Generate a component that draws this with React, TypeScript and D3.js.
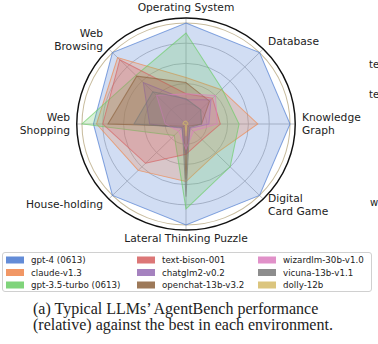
import React from "react";
import * as d3 from "d3";

const axes = [
  ["Operating System"],
  ["Database"],
  ["Knowledge", "Graph"],
  ["Digital", "Card Game"],
  ["Lateral Thinking Puzzle"],
  ["House-holding"],
  ["Web", "Shopping"],
  ["Web", "Browsing"],
];

const seriesNames = [
  "gpt-4 (0613)",
  "claude-v1.3",
  "gpt-3.5-turbo (0613)",
  "text-bison-001",
  "chatglm2-v0.2",
  "openchat-13b-v3.2",
  "wizardlm-30b-v1.0",
  "vicuna-13b-v1.1",
  "dolly-12b",
];

// values per axis: OS, DB, KG, DCG, LTP, HH, WS, WB (relative to best)
const gpt4 = [1.0, 1.0, 1.0, 1.0, 1.0, 1.0, 0.89, 1.0];
const claude = [0.46, 0.48, 0.69, 0.41, 0.57, 0.65, 0.86, 0.93];
const gpt35 = [0.9, 0.49, 0.51, 0.6, 0.84, 0.16, 1.0, 0.68];
const textBison = [0.3, 0.36, 0.33, 0.22, 0.3, 0.55, 0.8, 0.9];
const chatglm2 = [0.24, 0.34, 0.22, 0.06, 0.3, 0.06, 0.35, 0.58];
const openchat = [0.41, 0.32, 0.15, 0.03, 0.55, 0.03, 0.75, 0.67];
const wizardlm = [0.3, 0.4, 0.3, 0.1, 0.25, 0.1, 0.2, 0.4];
const vicuna = [0.25, 0.2, 0.15, 0.05, 0.72, 0.05, 0.5, 0.45];
const dolly = [0.03, 0.02, 0.02, 0.01, 0.12, 0.01, 0.03, 0.03];

const seriesValues = [gpt4, claude, gpt35, textBison, chatglm2, openchat, wizardlm, vicuna, dolly];
const colors = ["#4878d0", "#ee854a", "#6acc64", "#d65f5f", "#956cb4", "#8c613c", "#dc7ec0", "#797979", "#d5bb67"];

const gridTicks = [0.2, 0.4, 0.6, 0.8];

export default function App() {
  const cx = 186;
  const cy = 124;
  const sx = 1.03;
  const r = d3.scaleLinear().domain([0, 1]).range([0, 101]);
  const n = axes.length;
  const angle = (i: number) => (i * 2 * Math.PI) / n;
  const line = d3
    .lineRadial<number>()
    .angle((_, i) => angle(i))
    .radius((v) => r(v))
    .curve(d3.curveLinearClosed);

  const labelPos = [
    { x: 186, y: 11, anchor: "middle" },
    { x: 268, y: 45, anchor: "start" },
    { x: 302, y: 121, anchor: "start" },
    { x: 268, y: 202, anchor: "start" },
    { x: 186, y: 242, anchor: "middle" },
    { x: 103, y: 208, anchor: "end" },
    { x: 70, y: 121, anchor: "end" },
    { x: 103, y: 37, anchor: "end" },
  ];

  const legendCols = [6, 137, 258];
  const legendRows = [260, 272.5, 285];

  return (
    <svg
      width={378}
      height={344}
      viewBox="0 0 378 344"
      style={{ position: "absolute", left: 0, top: 0, background: "#fff" }}
      fontFamily="DejaVu Sans, sans-serif"
    >
      <rect x={0} y={0} width={378} height={344} fill="#fff" />
      <g transform={`translate(${cx},${cy}) scale(${sx},1)`}>
        {gridTicks.map((t) => (
          <circle key={t} r={r(t)} fill="none" stroke="#bdbdbd" strokeWidth={0.9} />
        ))}
        <circle r={r(1)} fill="none" stroke="#c8bc9e" strokeWidth={1} />
        {axes.map((_, i) => {
          const a = angle(i);
          return (
            <line
              key={i}
              x1={0}
              y1={0}
              x2={Math.sin(a) * r(1.05)}
              y2={-Math.cos(a) * r(1.05)}
              stroke="#bdbdbd"
              strokeWidth={0.9}
            />
          );
        })}
        {seriesValues.map((vals, k) => (
          <path
            key={k}
            d={line(vals) || ""}
            fill={colors[k]}
            fillOpacity={0.25}
            stroke={colors[k]}
            strokeOpacity={0.65}
            strokeWidth={1}
          />
        ))}
        <circle r={r(1.05)} fill="none" stroke="#111" strokeWidth={1.4} />
      </g>
      {axes.map((lines, i) => (
        <text
          key={i}
          x={labelPos[i].x}
          y={labelPos[i].y}
          textAnchor={labelPos[i].anchor as any}
          fontSize={10.7}
          fill="#222"
        >
          {lines.map((l, j) => (
            <tspan key={j} x={labelPos[i].x} dy={j === 0 ? 0 : 13}>
              {l}
            </tspan>
          ))}
        </text>
      ))}
      <text x={369} y={68} fontSize={10} fill="#222">te</text>
      <text x={369} y={98} fontSize={10} fill="#222">te</text>
      <text x={370} y={206} fontSize={10} fill="#222">w</text>
      <rect x={2.5} y={252.5} width={369} height={39} rx={2.5} fill="#fff" stroke="#d0d0d0" strokeWidth={1} />
      {seriesNames.map((name, k) => {
        const col = Math.floor(k / 3);
        const row = k % 3;
        const x = legendCols[col];
        const y = legendRows[row];
        return (
          <g key={name}>
            <rect x={x} y={y - 3.5} width={18} height={7} fill={colors[k]} fillOpacity={0.85} />
            <text x={x + 25} y={y + 3} fontSize={8.7} fill="#222">
              {name}
            </text>
          </g>
        );
      })}
      <text x={33} y={314} fontSize={16} fontFamily="Liberation Serif, Times New Roman, serif" fill="#222">
        (a) Typical LLMs’ AgentBench performance
      </text>
      <text x={33} y={330} fontSize={16} fontFamily="Liberation Serif, Times New Roman, serif" fill="#222">
        (relative) against the best in each environment.
      </text>
    </svg>
  );
}
